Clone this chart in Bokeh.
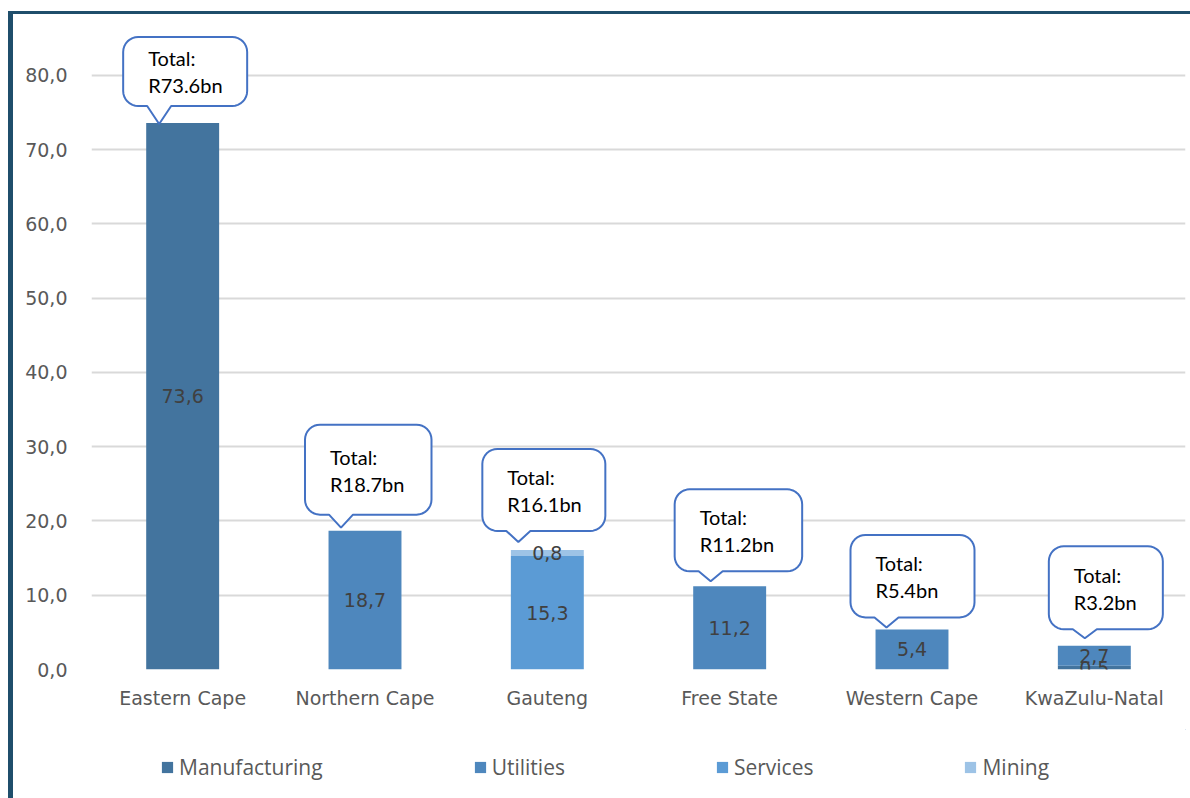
import math
from bokeh.plotting import figure
from bokeh.layouts import column, row
from bokeh.models import ColumnDataSource, Range1d, FixedTicker, Legend, LegendItem, Div, Spacer
from bokeh.core.properties import value
from bokeh.embed import file_html
from bokeh.resources import INLINE

# ---- data ----
regions = ["Eastern Cape", "Northern Cape", "Gauteng", "Free State", "Western Cape", "KwaZulu-Natal"]
series = ["Manufacturing", "Utilities", "Services", "Mining"]
manufacturing = [73.6, 0.0, 0.0, 0.0, 0.0, 0.5]
utilities = [0.0, 18.7, 0.0, 11.2, 5.4, 2.7]
services = [0.0, 0.0, 15.3, 0.0, 0.0, 0.0]
mining = [0.0, 0.0, 0.8, 0.0, 0.0, 0.0]
y_ticks = [0, 10, 20, 30, 40, 50, 60, 70, 80]

# ---- styles ----
colors = ["#43749e", "#4e87bd", "#5b9bd5", "#9dc3e6"]
BORDER = "#1f4e6b"
CALLOUT = "#4472c4"
AX_FONT = "DejaVu Sans"

# callout geometry in screen px relative to (bar centre, bar top):
# left, right, height, box-bottom height above bar, tail-tip height above bar
callout_geom = [
    (-59.5, 64.5, 69, 17, -1),
    (-60, 66.5, 90, 16, 3),
    (-65, 58, 82, 19, 8),
    (-55, 72.5, 82, 15, 5),
    (-61.5, 62.5, 82.5, 12, 2),
    (-45.5, 68.5, 83, 16.5, 7.5),
]

Y_MAX = 86.46
PX_X = 182.33  # pixels per category unit
PX_Y = 7.425   # pixels per value unit

xs = [i + 0.5 for i in range(len(regions))]
data = dict(x=xs, Manufacturing=manufacturing, Utilities=utilities, Services=services, Mining=mining)
src = ColumnDataSource(data)

p = figure(width=1177, height=715, output_backend="svg", toolbar_location=None,
           x_range=Range1d(0, 6), y_range=Range1d(0, Y_MAX),
           min_border_left=78, min_border_right=5, min_border_top=13, min_border_bottom=60)
p.outline_line_color = None
p.background_fill_color = "white"
p.border_fill_color = "white"

rs = p.vbar_stack(series, x="x", width=0.4, source=src, fill_color=colors, line_color=None)

# value labels
lx, ly, lt = [], [], []
for i in range(len(regions)):
    base = 0.0
    for arr in (manufacturing, utilities, services, mining):
        v = arr[i]
        if v > 0:
            lx.append(xs[i]); ly.append(base + v / 2); lt.append(f"{v:.1f}".replace(".", ","))
        base += v
p.text(x=lx, y=ly, text=lt, text_align="center", text_baseline="middle",
       text_font=value(AX_FONT), text_font_size="19px", text_color="#404040")

# callouts
totals = [round(a + b + c + d, 1) for a, b, c, d in zip(manufacturing, utilities, services, mining)]


def rounded_callout(L, R, H, gap, tipgap, r=15, n=8):
    b = gap
    t = b + H
    tipx = L + 36
    pts = [(L + r, b), (tipx - 12, b), (tipx, tipgap), (tipx + 12, b), (R - r, b)]

    def arc(cx, cy, a0, a1):
        return [(cx + r * math.cos(math.radians(a0 + (a1 - a0) * k / n)),
                 cy + r * math.sin(math.radians(a0 + (a1 - a0) * k / n))) for k in range(1, n + 1)]
    pts += arc(R - r, b + r, -90, 0)
    pts += [(R, t - r)]
    pts += arc(R - r, t - r, 0, 90)
    pts += [(L + r, t)]
    pts += arc(L + r, t - r, 90, 180)
    pts += [(L, b + r)]
    pts += arc(L + r, b + r, 180, 270)
    return pts


cxs, cys = [], []
t1x, t1y, t2y, t2 = [], [], [], []
for i, tot in enumerate(totals):
    L, R, H, gap, tipgap = callout_geom[i]
    pts = rounded_callout(L, R, H, gap, tipgap)
    cxs.append([xs[i] + px / PX_X for px, _ in pts])
    cys.append([tot + py / PX_Y for _, py in pts])
    mid = gap + H / 2
    t1x.append(xs[i] + (L + 25) / PX_X)
    t1y.append(tot + (mid + 13) / PX_Y)
    t2y.append(tot + (mid - 14) / PX_Y)
    t2.append(f"R{tot:.1f}bn")

p.patches(xs=cxs, ys=cys, fill_color="white", line_color=CALLOUT, line_width=2)
p.text(x=t1x, y=t1y, text=["Total:"] * len(totals), text_align="left", text_baseline="middle",
       text_font=value("Lato"), text_font_size="20px", text_color="#000000")
p.text(x=t1x, y=t2y, text=t2, text_align="left", text_baseline="middle",
       text_font=value("Lato"), text_font_size="20px", text_color="#000000")

# axes
p.xgrid.grid_line_color = None
p.ygrid.grid_line_color = "#d9d9d9"
p.ygrid.grid_line_width = 2
p.yaxis.ticker = FixedTicker(ticks=y_ticks)
p.yaxis.major_label_overrides = {t: f"{t:.1f}".replace(".", ",") for t in y_ticks}
p.xaxis.ticker = FixedTicker(ticks=xs)
p.xaxis.major_label_overrides = {x: r for x, r in zip(xs, regions)}
for ax in (p.xaxis[0], p.yaxis[0]):
    ax.axis_line_color = None
    ax.major_tick_line_color = None
    ax.minor_tick_line_color = None
    ax.major_label_text_font = AX_FONT
    ax.major_label_text_font_size = "19px"
    ax.major_label_text_color = "#595959"
p.yaxis.major_label_standoff = 18
p.xaxis.major_label_standoff = 11

# legend in its own strip below the chart (swatch renderers sit outside the visible range)
lg = figure(width=1177, height=69, output_backend="svg", toolbar_location=None,
            x_range=Range1d(0, 1), y_range=Range1d(0, 1),
            min_border_left=0, min_border_right=0, min_border_top=0, min_border_bottom=0)
lg.axis.visible = False
lg.grid.grid_line_color = None
lg.outline_line_color = None
lg_rs = [lg.vbar(x=[5.0], top=[5.0], bottom=[4.0], width=0.1, fill_color=c, line_color=None)
         for c in colors]
legend = Legend(items=[LegendItem(label=s, renderers=[r]) for s, r in zip(series, lg_rs)],
                orientation="horizontal", location=(69, 17), padding=0, margin=0,
                spacing=150, glyph_width=14, glyph_height=14, label_standoff=5,
                label_text_font="Open Sans", label_text_font_size="21px",
                label_text_color="#595959", border_line_color=None, background_fill_alpha=0)
lg.add_layout(legend)

chart = column(p, lg, spacing=0)
top_bar = row(Spacer(width=8, height=3), Div(text="", width=1182, height=3, margin=0,
                                              styles={"background-color": BORDER}), spacing=0)
body = row(Spacer(width=8, height=784), Div(text="", width=5, height=784, margin=0,
                                             styles={"background-color": BORDER}), chart, spacing=0)
page = column(Spacer(width=1190, height=11), top_bar, body, spacing=0)

open("out.html", "w").write(file_html(page, INLINE))
